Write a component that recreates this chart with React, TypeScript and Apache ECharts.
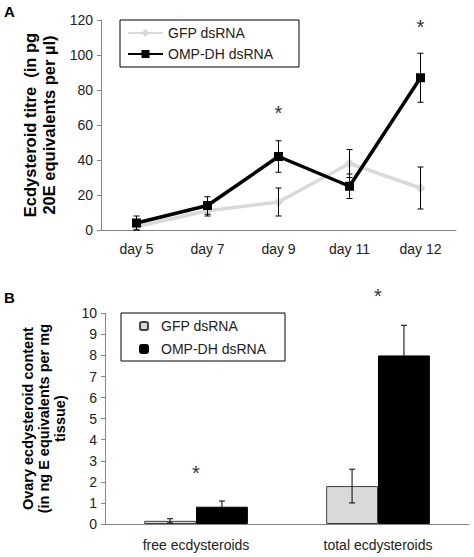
import React, { useEffect, useRef } from "react";
import * as echarts from "echarts";

const FONT = "'Liberation Sans', Arial, sans-serif";

// Panel A
const daysA = ["day 5", "day 7", "day 9", "day 11", "day 12"];
const gfpTitre = [2, 11, 16, 38, 24];
const gfpTitreErr = [2, 3, 8, 8, 12];
const ompTitre = [4, 14, 42, 25, 87];
const ompTitreErr = [4, 5, 9, 7, 14];
const starsA = [["day 9", 67], ["day 12", 116]];
const ticksA = { min: 0, max: 120, interval: 20 };

// Panel B
const catsB = ["free ecdysteroids", "total ecdysteroids"];
const gfpContent = [0.15, 1.8];
const gfpContentErr = [0.1, 0.8];
const ompContent = [0.82, 8.0];
const ompContentErr = [0.27, 1.43];
const starsB = [["free ecdysteroids", 2.4], ["total ecdysteroids", 10.8]];
const ticksB = { min: 0, max: 10, interval: 1 };

const axisGray = "#868686";
const textColor = "#222";

function errRender(offsetFactor: number | null) {
  return (params: any, api: any) => {
    const xi = api.value(0);
    const y = api.value(1);
    const e = api.value(2);
    const side = api.value(3);
    let off = 0;
    if (offsetFactor !== null) {
      const band = api.size([1, 0])[0];
      const bw = (band * offsetFactor) / 2;
      off = side === 0 ? -bw / 2 : bw / 2;
    }
    const top = api.coord([xi, y + e]);
    const bot = api.coord([xi, Math.max(y - e, 0)]);
    const x = top[0] + off;
    const cap = 3;
    const st = { stroke: "#000", lineWidth: 1 };
    return {
      type: "group",
      children: [
        { type: "line", shape: { x1: x, y1: top[1], x2: x, y2: bot[1] }, style: st },
        { type: "line", shape: { x1: x - cap, y1: top[1], x2: x + cap, y2: top[1] }, style: st },
        { type: "line", shape: { x1: x - cap, y1: bot[1], x2: x + cap, y2: bot[1] }, style: st },
      ],
    };
  };
}

function starRender(params: any, api: any) {
  const p = api.coord([api.value(0), api.value(1)]);
  return {
    type: "text",
    x: p[0],
    y: p[1],
    style: {
      text: "*",
      fontSize: 20,
      fontFamily: FONT,
      fill: "#333",
      align: "center",
      verticalAlign: "middle",
    },
  };
}

function optionA(): any {
  const errData = [
    ...gfpTitre.map((v, i) => [i, v, gfpTitreErr[i], 0]),
    ...ompTitre.map((v, i) => [i, v, ompTitreErr[i], 1]),
  ];
  return {
    animation: false,
    textStyle: { fontFamily: FONT },
    graphic: [
      {
        type: "text",
        left: 4,
        top: 4,
        style: { text: "A", fontSize: 15, fontWeight: "bold", fontFamily: FONT, fill: "#000" },
      },
    ],
    legend: {
      orient: "vertical",
      left: 120,
      top: 20,
      padding: [6, 26, 6, 7],
      itemGap: 7,
      itemWidth: 35,
      itemHeight: 10,
      borderColor: "#000",
      borderWidth: 1,
      textStyle: { fontSize: 14, fontFamily: FONT, color: textColor },
      data: ["GFP dsRNA", "OMP-DH dsRNA"],
    },
    grid: { left: 101, top: 20, width: 355, height: 210, containLabel: false, outerBoundsMode: "none" },
    xAxis: {
      type: "category",
      data: daysA,
      axisLine: { lineStyle: { color: axisGray } },
      axisTick: { length: 5, lineStyle: { color: axisGray } },
      axisLabel: { fontSize: 14, color: textColor, margin: 12, fontFamily: FONT },
    },
    yAxis: {
      type: "value",
      min: ticksA.min,
      max: ticksA.max,
      interval: ticksA.interval,
      splitLine: { show: false },
      axisLine: { show: true, lineStyle: { color: axisGray } },
      axisTick: { show: true, length: 4, lineStyle: { color: axisGray } },
      axisLabel: { fontSize: 14, color: textColor, margin: 8, fontFamily: FONT },
      name: "Ecdysteroid titre  (in pg\n20E equivalents per µl)",
      nameLocation: "middle",
      nameRotate: 90,
      nameGap: 43,
      nameTextStyle: { fontSize: 16.5, fontWeight: "bold", color: "#000", lineHeight: 19, fontFamily: FONT },
    },
    series: [
      {
        name: "GFP dsRNA",
        type: "line",
        data: gfpTitre,
        color: "#d9d9d9",
        lineStyle: { width: 3.5, color: "#d9d9d9" },
        itemStyle: { color: "#d9d9d9" },
        symbol: "diamond",
        symbolSize: 10,
        z: 2,
      },
      {
        name: "OMP-DH dsRNA",
        type: "line",
        data: ompTitre,
        color: "#000",
        lineStyle: { width: 3.5, color: "#000" },
        itemStyle: { color: "#000" },
        symbol: "rect",
        symbolSize: 9,
        z: 3,
      },
      {
        type: "custom",
        renderItem: errRender(null),
        data: errData,
        z: 5,
        silent: true,
      },
      {
        type: "custom",
        renderItem: starRender,
        data: starsA,
        z: 5,
        silent: true,
      },
    ],
  };
}

function optionB(): any {
  const errData = [
    ...gfpContent.map((v, i) => [i, v, gfpContentErr[i], 0]),
    ...ompContent.map((v, i) => [i, v, ompContentErr[i], 1]),
  ];
  return {
    animation: false,
    textStyle: { fontFamily: FONT },
    graphic: [
      {
        type: "text",
        left: 4,
        top: 20,
        style: { text: "B", fontSize: 15, fontWeight: "bold", fontFamily: FONT, fill: "#000" },
      },
    ],
    legend: {
      orient: "vertical",
      left: 121,
      top: 43,
      padding: [6, 19, 5, 18],
      itemGap: 9,
      itemWidth: 8,
      itemHeight: 8,
      borderColor: "#000",
      borderWidth: 1,
      textStyle: { fontSize: 14, fontFamily: FONT, color: textColor, padding: [0, 0, 0, 8] },
      data: ["GFP dsRNA", "OMP-DH dsRNA"],
    },
    grid: { left: 105, top: 43.3, width: 364, height: 210.7, containLabel: false, outerBoundsMode: "none" },
    xAxis: {
      type: "category",
      data: catsB,
      axisLine: { lineStyle: { color: axisGray } },
      axisTick: { length: 5, lineStyle: { color: axisGray } },
      axisLabel: { fontSize: 14, color: textColor, margin: 14, fontFamily: FONT },
    },
    yAxis: {
      type: "value",
      min: ticksB.min,
      max: ticksB.max,
      interval: ticksB.interval,
      splitLine: { show: false },
      axisLine: { show: true, lineStyle: { color: axisGray } },
      axisTick: { show: true, length: 4, lineStyle: { color: axisGray } },
      axisLabel: { fontSize: 14, color: textColor, margin: 8, fontFamily: FONT },
      name: "Ovary ecdysteroid content\n(in ng E equivalents per mg\ntissue)",
      nameLocation: "middle",
      nameRotate: 90,
      nameGap: 37,
      nameTextStyle: { fontSize: 14.5, fontWeight: "bold", color: "#000", lineHeight: 16, fontFamily: FONT },
    },
    series: [
      {
        name: "GFP dsRNA",
        type: "bar",
        data: gfpContent,
        barGap: "0%",
        barCategoryGap: "43%",
        itemStyle: { color: "#d9d9d9", borderColor: "#404040", borderWidth: 1 },
      },
      {
        name: "OMP-DH dsRNA",
        type: "bar",
        data: ompContent,
        barGap: "0%",
        barCategoryGap: "43%",
        itemStyle: { color: "#000", borderColor: "#000", borderWidth: 1 },
      },
      {
        type: "custom",
        renderItem: errRender(0.57),
        data: errData,
        z: 5,
        silent: true,
      },
      {
        type: "custom",
        renderItem: starRender,
        data: starsB,
        z: 5,
        silent: true,
      },
    ],
  };
}

export default function App() {
  const refA = useRef<HTMLDivElement>(null);
  const refB = useRef<HTMLDivElement>(null);
  useEffect(() => {
    const a = echarts.init(refA.current!, undefined, { renderer: "svg" });
    const b = echarts.init(refB.current!, undefined, { renderer: "svg" });
    a.setOption(optionA());
    b.setOption(optionB());
    return () => {
      a.dispose();
      b.dispose();
    };
  }, []);
  return (
    <div style={{ position: "fixed", left: 0, top: 0, width: 474, height: 557, background: "#fff" }}>
      <div ref={refA} style={{ position: "absolute", left: 0, top: 0, width: 474, height: 270 }} />
      <div ref={refB} style={{ position: "absolute", left: 0, top: 270, width: 474, height: 287 }} />
    </div>
  );
}
